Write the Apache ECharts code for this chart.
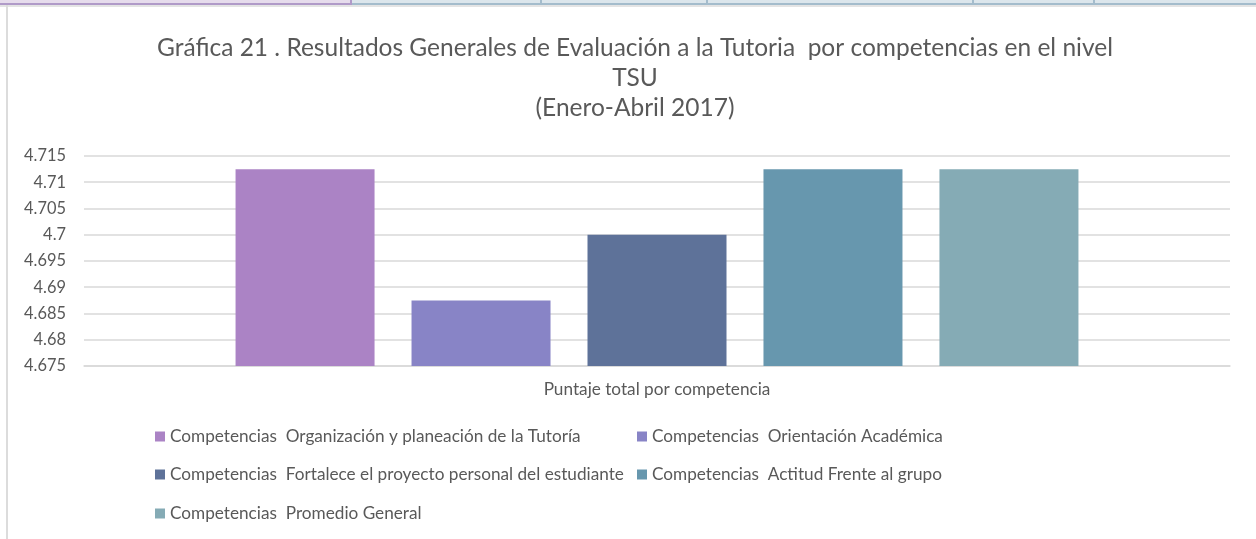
<!DOCTYPE html>
<html>
<head>
<meta charset="utf-8">
<script src="https://cdn.jsdelivr.net/npm/echarts@6/dist/echarts.min.js"></script>
<style>
  html, body { margin: 0; padding: 0; background: #fff; }
  #chart { width: 1256px; height: 539px; }
</style>
</head>
<body>
<div id="chart"></div>
<script>
var categories = ["Puntaje total por competencia"];

var seriesNames = [
    "Competencias  Organización y planeación de la Tutoría",
    "Competencias  Orientación Académica",
    "Competencias  Fortalece el proyecto personal del estudiante",
    "Competencias  Actitud Frente al grupo",
    "Competencias  Promedio General"
];

var seriesValues = [4.7125, 4.6875, 4.7, 4.7125, 4.7125];

var seriesColors = ["#ab83c5", "#8884c6", "#5e7299", "#6797ae", "#85abb5"];

var yTicks = { min: 4.675, max: 4.715, step: 0.005 };

var font = "Lato, 'Open Sans', sans-serif";
var textColor = "#595959";

// posiciones de cada leyenda (dos columnas como en Excel)
var legendPos = [
    { left: 155, top: 428 },
    { left: 637, top: 428 },
    { left: 155, top: 466 },
    { left: 637, top: 466 },
    { left: 155, top: 505 }
];

var chart = echarts.init(document.getElementById("chart"));

chart.setOption({
    animation: false,
    textStyle: { fontFamily: font },
    title: {
        text: "Gráfica 21 . Resultados Generales de Evaluación a la Tutoria  por competencias en el nivel\nTSU\n(Enero-Abril 2017)",
        left: 630,
        top: 28,
        textAlign: "center",
        textStyle: {
            fontFamily: font,
            fontSize: 24.5,
            fontWeight: "normal",
            color: textColor,
            lineHeight: 30
        }
    },
    legend: seriesNames.map(function (name, i) {
        return {
            data: [name],
            left: legendPos[i].left,
            top: legendPos[i].top,
            padding: 0,
            icon: "rect",
            itemWidth: 10,
            itemHeight: 10,
            selectedMode: false,
            textStyle: { fontFamily: font, fontSize: 17.2, color: textColor }
        };
    }),
    grid: { left: 84, right: 26, top: 156, bottom: 173, containLabel: false },
    xAxis: {
        type: "category",
        data: categories,
        axisLine: { lineStyle: { color: "#d9d9d9", width: 1.5 } },
        axisTick: { show: false },
        axisLabel: { margin: 15, fontSize: 17.2, color: textColor, fontFamily: font }
    },
    yAxis: {
        type: "value",
        min: yTicks.min,
        max: yTicks.max,
        interval: yTicks.step,
        axisLine: { show: false },
        axisTick: { show: false },
        axisLabel: {
            margin: 18,
            fontSize: 16.4,
            color: textColor,
            fontFamily: font,
            formatter: function (v) { return String(+v.toFixed(3)); }
        },
        splitLine: { lineStyle: { color: "#d9d9d9", width: 1.5 } }
    },
    series: seriesNames.map(function (name, i) {
        return {
            name: name,
            type: "bar",
            barWidth: 139,
            barGap: "26.6%",
            data: [seriesValues[i]],
            itemStyle: { color: seriesColors[i] }
        };
    }),
    graphic: [
        // franja de celdas de la hoja y borde izquierdo
        { type: "rect", shape: { x: 0, y: 0, width: 1256, height: 4 }, style: { fill: "#dce6ec" } },
        { type: "rect", shape: { x: 0, y: 0, width: 351, height: 4 }, style: { fill: "#e6dcec" } },
        { type: "rect", shape: { x: 0, y: 3, width: 1256, height: 2 }, style: { fill: "#a4bccc" } },
        { type: "rect", shape: { x: 0, y: 3, width: 352, height: 2 }, style: { fill: "#b09ac8" } },
        { type: "rect", shape: { x: 350, y: 0, width: 2, height: 5 }, style: { fill: "#b09ac8" } },
        { type: "rect", shape: { x: 540, y: 0, width: 2, height: 5 }, style: { fill: "#a4bccc" } },
        { type: "rect", shape: { x: 706, y: 0, width: 2, height: 5 }, style: { fill: "#a4bccc" } },
        { type: "rect", shape: { x: 972, y: 0, width: 2, height: 5 }, style: { fill: "#a4bccc" } },
        { type: "rect", shape: { x: 1093, y: 0, width: 2, height: 5 }, style: { fill: "#a4bccc" } },
        { type: "rect", shape: { x: 0, y: 5, width: 1256, height: 2 }, style: { fill: "#e4e4e4" } },
        { type: "rect", shape: { x: 6, y: 5, width: 2, height: 534 }, style: { fill: "#dcdcdc" } }
    ]
});
</script>
</body>
</html>
